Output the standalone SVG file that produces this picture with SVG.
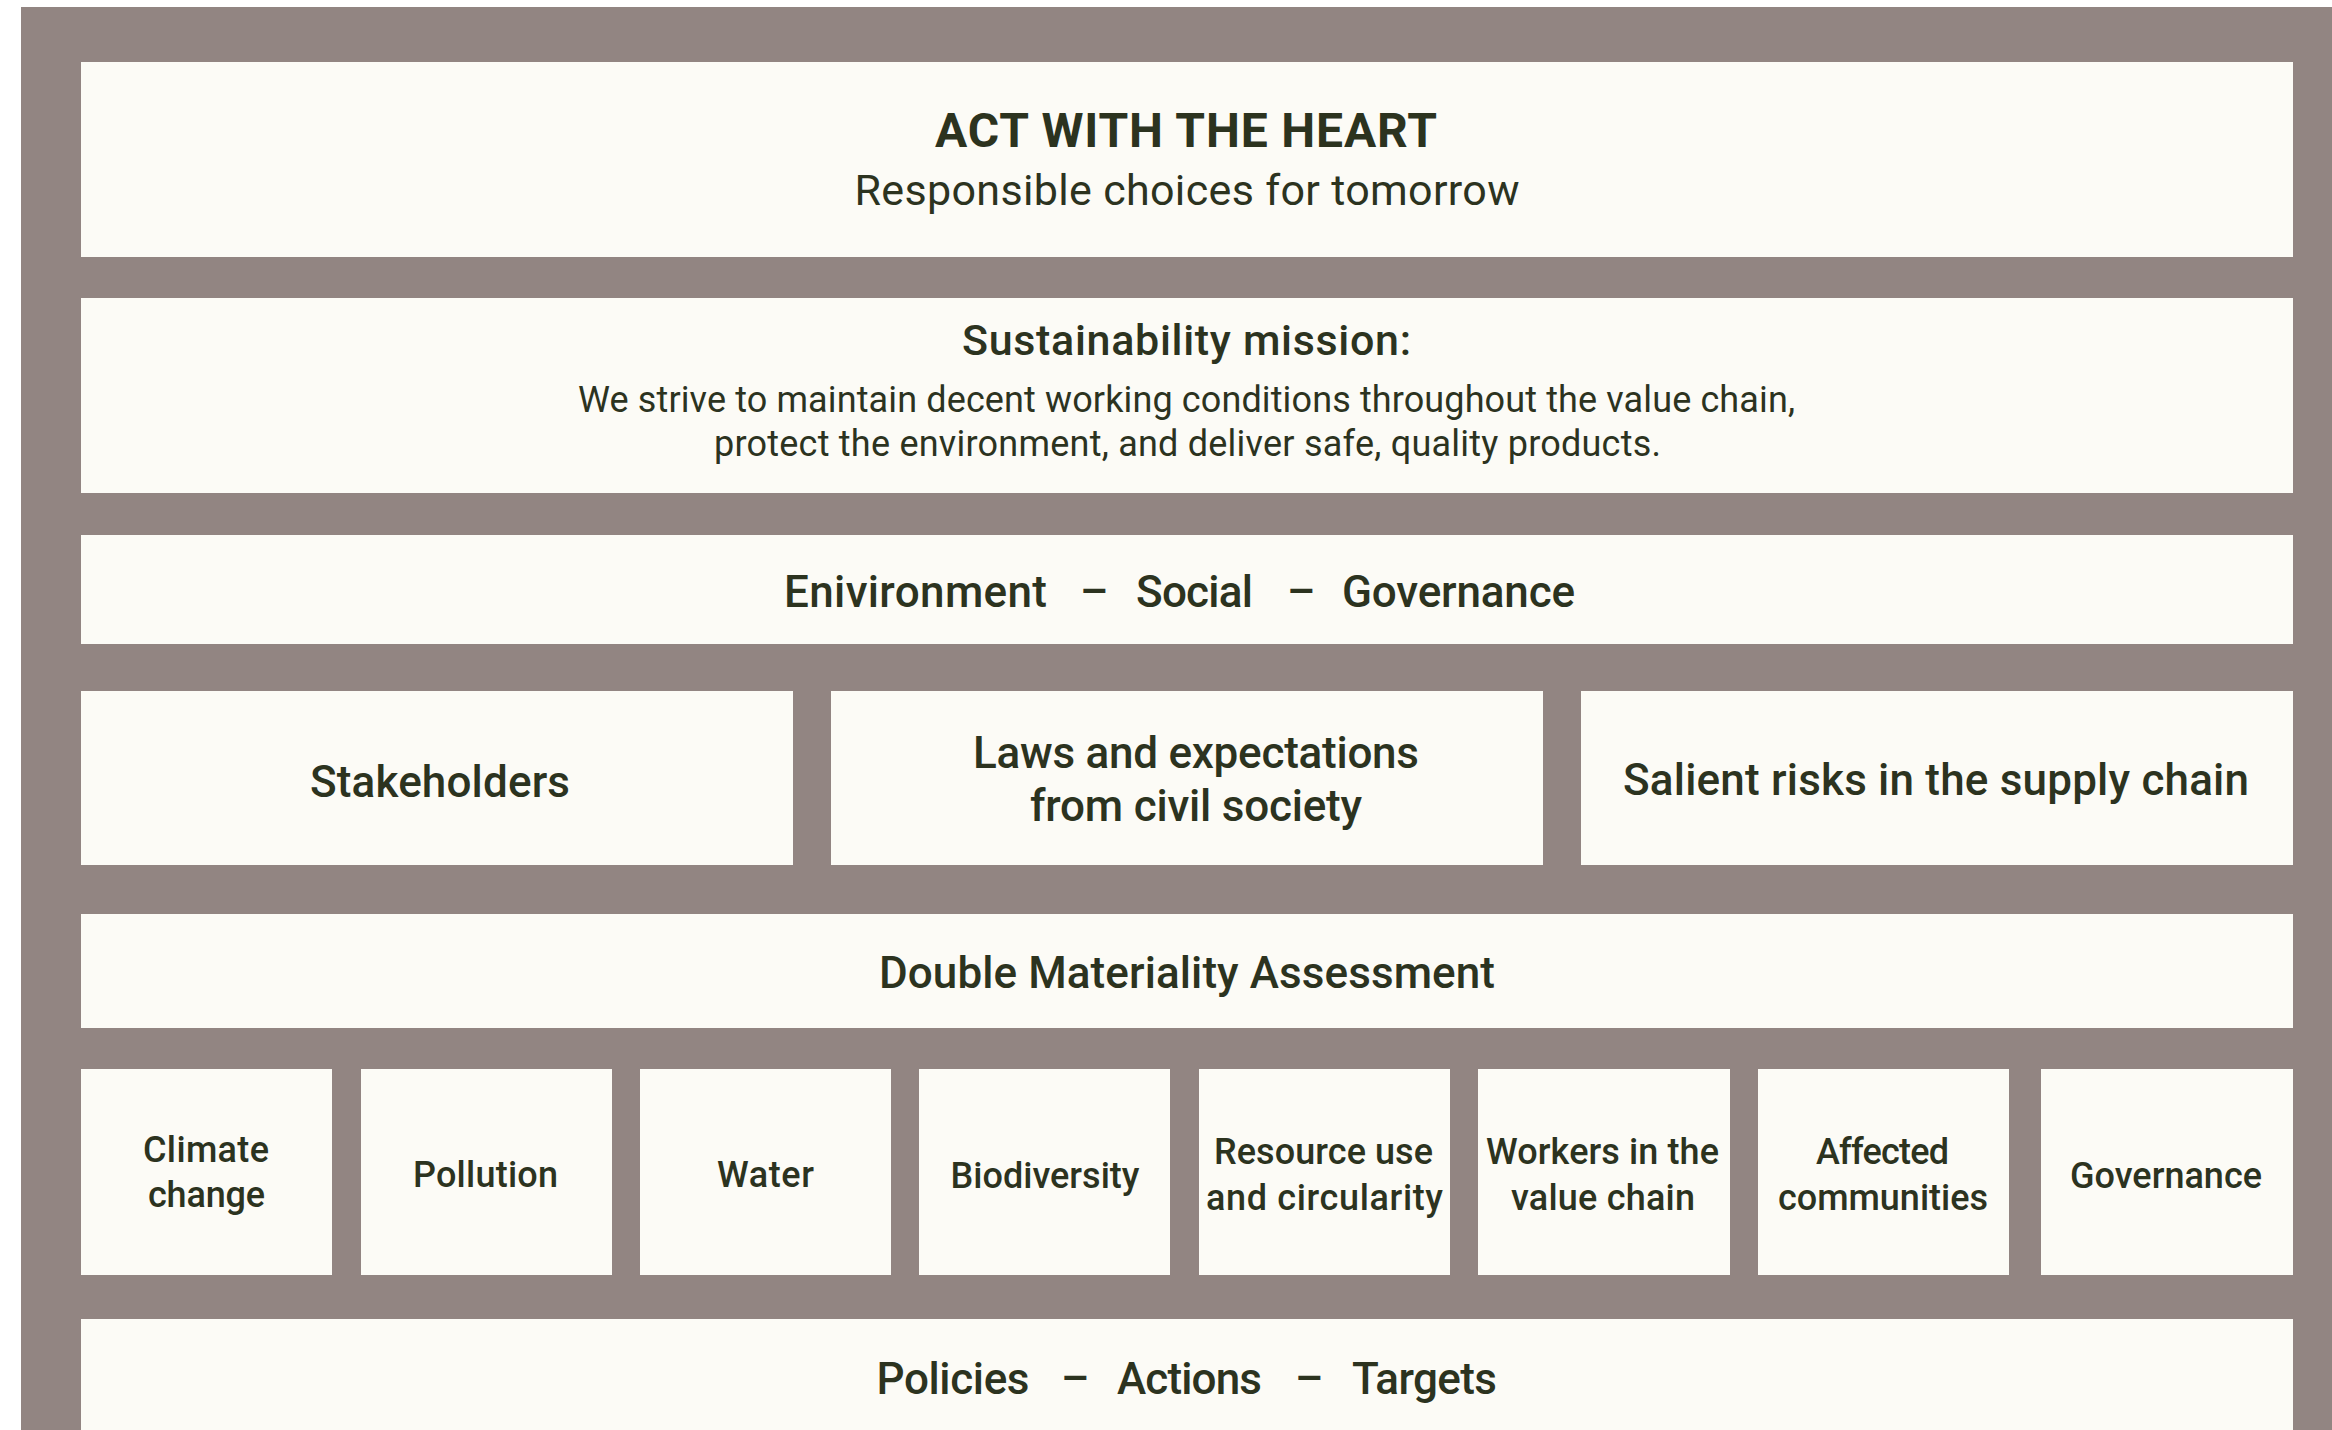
<svg xmlns="http://www.w3.org/2000/svg" width="2332" height="1430" viewBox="0 0 2332 1430">
  <style>
    .frame { fill: #928582; }
    .box { fill: #fcfbf6; }
    text { font-family: Roboto, "Liberation Sans", "DejaVu Sans", sans-serif; fill: #2c331f; }
    .title { font-size: 48px; font-weight: 700; text-anchor: middle; }
    .sub { font-size: 43px; font-weight: 400; text-anchor: middle; }
    .head { font-size: 43px; font-weight: 500; text-anchor: middle; }
    .body { font-size: 36px; font-weight: 400; text-anchor: middle; }
    .lbl { font-size: 44px; font-weight: 500; text-anchor: middle; }
    .row { font-size: 44px; font-weight: 500; }
    .small { font-size: 36px; font-weight: 500; text-anchor: middle; }
  </style>

  <!-- backdrop -->
  <rect class="frame" x="21" y="7" width="2311" height="1423"/>

  <g id="act-with-the-heart">
    <rect class="box" x="81" y="62" width="2212" height="195"/>
    <text class="title" x="1186" y="147" textLength="502" lengthAdjust="spacing">ACT WITH THE HEART</text>
    <text class="sub" x="1187" y="205" textLength="665" lengthAdjust="spacing">Responsible choices for tomorrow</text>
  </g>

  <g id="sustainability-mission">
    <rect class="box" x="81" y="298" width="2212" height="195"/>
    <text class="head" x="1186.5" y="355" textLength="449" lengthAdjust="spacing">Sustainability mission:</text>
    <text class="body" x="1186.5" y="412" textLength="1217" lengthAdjust="spacing">We strive to maintain decent working conditions throughout the value chain,</text>
    <text class="body" x="1187.5" y="456" textLength="947" lengthAdjust="spacing">protect the environment, and deliver safe, quality products.</text>
  </g>

  <g id="esg">
    <rect class="box" x="81" y="535" width="2212" height="109"/>
    <text class="row" y="607">
      <tspan x="784" textLength="263" lengthAdjust="spacing">Enivironment</tspan>
      <tspan x="1080">–</tspan>
      <tspan x="1136" textLength="117" lengthAdjust="spacing">Social</tspan>
      <tspan x="1287">–</tspan>
      <tspan x="1342" textLength="233" lengthAdjust="spacing">Governance</tspan>
    </text>
  </g>

  <g id="stakeholders">
    <rect class="box" x="81" y="691" width="712" height="174"/>
    <text class="lbl" x="440" y="797" textLength="260" lengthAdjust="spacing">Stakeholders</text>
  </g>

  <g id="laws-and-expectations">
    <rect class="box" x="831" y="691" width="712" height="174"/>
    <text class="lbl" x="1196" y="768" textLength="446" lengthAdjust="spacing">Laws and expectations</text>
    <text class="lbl" x="1196" y="821" textLength="332" lengthAdjust="spacing">from civil society</text>
  </g>

  <g id="salient-risks">
    <rect class="box" x="1581" y="691" width="712" height="174"/>
    <text class="lbl" x="1936" y="795" textLength="626" lengthAdjust="spacing">Salient risks in the supply chain</text>
  </g>

  <g id="double-materiality-assessment">
    <rect class="box" x="81" y="914" width="2212" height="114"/>
    <text class="lbl" x="1187" y="988" textLength="616" lengthAdjust="spacing">Double Materiality Assessment</text>
  </g>

  <g id="climate-change">
    <rect class="box" x="81" y="1069" width="251" height="206"/>
    <text class="small" x="206" y="1162" textLength="126" lengthAdjust="spacing">Climate</text>
    <text class="small" x="206.5" y="1207" textLength="117" lengthAdjust="spacing">change</text>
  </g>
  <g id="pollution">
    <rect class="box" x="361" y="1069" width="251" height="206"/>
    <text class="small" x="485.5" y="1187" textLength="145" lengthAdjust="spacing">Pollution</text>
  </g>
  <g id="water">
    <rect class="box" x="640" y="1069" width="251" height="206"/>
    <text class="small" x="765.5" y="1187" textLength="97" lengthAdjust="spacing">Water</text>
  </g>
  <g id="biodiversity">
    <rect class="box" x="919" y="1069" width="251" height="206"/>
    <text class="small" x="1045" y="1188" textLength="189" lengthAdjust="spacing">Biodiversity</text>
  </g>
  <g id="resource-use">
    <rect class="box" x="1199" y="1069" width="251" height="206"/>
    <text class="small" x="1323.5" y="1164" textLength="219" lengthAdjust="spacing">Resource use</text>
    <text class="small" x="1324.5" y="1210" textLength="237" lengthAdjust="spacing">and circularity</text>
  </g>
  <g id="workers-in-the-value-chain">
    <rect class="box" x="1478" y="1069" width="252" height="206"/>
    <text class="small" x="1602.5" y="1164" textLength="233" lengthAdjust="spacing">Workers in the</text>
    <text class="small" x="1603" y="1210" textLength="184" lengthAdjust="spacing">value chain</text>
  </g>
  <g id="affected-communities">
    <rect class="box" x="1758" y="1069" width="251" height="206"/>
    <text class="small" x="1882.5" y="1164" textLength="133" lengthAdjust="spacing">Affected</text>
    <text class="small" x="1883" y="1210" textLength="210" lengthAdjust="spacing">communities</text>
  </g>
  <g id="governance">
    <rect class="box" x="2041" y="1069" width="252" height="206"/>
    <text class="small" x="2166" y="1188" textLength="192" lengthAdjust="spacing">Governance</text>
  </g>

  <g id="policies-actions-targets">
    <rect class="box" x="81" y="1319" width="2212" height="111"/>
    <text class="row" y="1394">
      <tspan x="876.5" textLength="153" lengthAdjust="spacing">Policies</tspan>
      <tspan x="1061">–</tspan>
      <tspan x="1117" textLength="145" lengthAdjust="spacing">Actions</tspan>
      <tspan x="1295">–</tspan>
      <tspan x="1352" textLength="145" lengthAdjust="spacing">Targets</tspan>
    </text>
  </g>

  <!-- no connectors in this layout -->
  <g id="connectors"/>
</svg>
